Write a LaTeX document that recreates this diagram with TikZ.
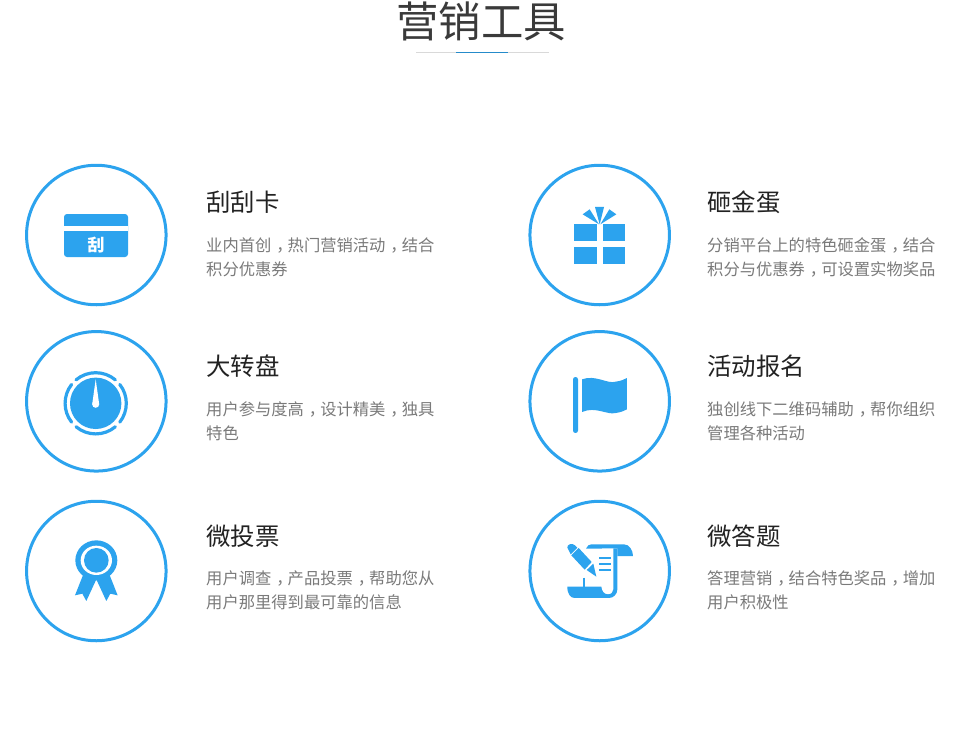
\documentclass[tikz,border=0pt]{standalone}
\usepackage{fontspec}
\setmainfont{Noto Sans CJK SC}
\definecolor{ic}{HTML}{2CA3EE}
\definecolor{ttl}{HTML}{3A3A3A}
\definecolor{hd}{HTML}{222222}
\definecolor{bd}{HTML}{7A7A7A}
\newcommand{\cm}{\hspace*{0.3em}，\hspace*{-0.3em}}
\tikzset{
 x=1pt,y=-1pt,
 ring/.style={draw=ic,line width=3pt,circle,minimum size=139.5pt,inner sep=0pt},
 head/.style={anchor=west,inner sep=0pt,font=\fontsize{24.4}{24.4}\selectfont,text=hd},
 body/.style={anchor=west,inner sep=0pt,font=\fontsize{16.3}{16.3}\selectfont,text=bd},
 wl/.style={draw=ic,line width=#1,line cap=round}
}
\begin{document}
\begin{tikzpicture}
\useasboundingbox (0,0) rectangle (960,744);
\fill[white] (0,0) rectangle (960,744);
\node[inner sep=0pt,text=ttl,font=\fontsize{42.4}{42.4}\selectfont] (title) at (481,21.5) {营销工具};
\coordinate (ra) at (416,52.5); \coordinate (rb) at (549,52.5);
\coordinate (ba) at (456,52.5); \coordinate (bb) at (508,52.5);
\draw[draw=black!15,line width=1pt] (ra) -- (rb);
\draw[draw=ic!85!black,line width=1pt] (ba) -- (bb);
% rings
\node[ring] (c1) at (96.3,235) {};
\node[ring] (c2) at (96.3,401.3) {};
\node[ring] (c3) at (96.3,571) {};
\node[ring] (c4) at (599.7,235) {};
\node[ring] (c5) at (599.7,401.3) {};
\node[ring] (c6) at (599.7,571) {};
% headings
\node[head] (h1) at (206,202) {刮刮卡};
\node[head] (h2) at (206,366) {大转盘};
\node[head] (h3) at (206,536) {微投票};
\node[head] (h4) at (707,202) {砸金蛋};
\node[head] (h5) at (707,366) {活动报名};
\node[head] (h6) at (707,536) {微答题};
% body
\node[body] (b1a) at (206,245.2) {业内首创\cm 热门营销活动\cm 结合};
\node[body] (b1b) at (206,269.7) {积分优惠券};
\node[body] (b2a) at (206,409.2) {用户参与度高\cm 设计精美\cm 独具};
\node[body] (b2b) at (206,433.7) {特色};
\node[body] (b3a) at (206,578.2) {用户调查\cm 产品投票\cm 帮助您从};
\node[body] (b3b) at (206,602.2) {用户那里得到最可靠的信息};
\node[body] (b4a) at (707,245.2) {分销平台上的特色砸金蛋\cm 结合};
\node[body] (b4b) at (707,269.7) {积分与优惠券\cm 可设置实物奖品};
\node[body] (b5a) at (707,409.2) {独创线下二维码辅助\cm 帮你组织};
\node[body] (b5b) at (707,433.7) {管理各种活动};
\node[body] (b6a) at (707,578.2) {答理营销\cm 结合特色奖品\cm 增加};
\node[body] (b6b) at (707,602.2) {用户积极性};
% card
\fill[ic,rounded corners=3pt] (64,214) rectangle (128,257);
\fill[white] (64,225.7) rectangle (128,230.7);
\node[inner sep=0pt,text=white,font=\fontsize{17}{17}\selectfont\bfseries] (g1) at (96,245) {刮};
% gauge
\fill[ic] (95.7,403.3) circle (25.7);
\foreach \a/\b in {50/130,142/218,230/310,322/398}
  \draw[wl=3.2pt] (95.7,403.3) ++({\a}:30.6 and -30.6) arc[start angle=-\a,end angle=-\b,radius=30.6];
\fill[white] (95.7,379.3) -- (92.2,404.3) -- (99.2,404.3) -- cycle;
\fill[white] (95.7,404.3) circle (3.5);
% ribbon
\begin{scope}[shift={(20,496)},x=0.3333pt,y=-0.3333pt]
\fill[ic] (190,235) -- (165,298) -- (187,293) -- (199,315) -- (229,250) -- (259,315) -- (271,293) -- (293,298) -- (268,235) -- cycle;
\fill[ic] (229,193) ellipse [x radius=63,y radius=60];
\fill[white] (229,193) ellipse [x radius=47,y radius=44];
\fill[ic] (229,193) circle (37);
\end{scope}
% gift
\begin{scope}[shift={(524,160)},x=0.3333pt,y=-0.3333pt]
\fill[ic] (150,193) rectangle (218,244);
\fill[ic] (236,193) rectangle (303,244);
\fill[ic] (150,261) rectangle (218,312);
\fill[ic] (236,261) rectangle (303,312);
\fill[ic] (213,141) -- (240,141) -- (227,193) -- cycle;
\fill[ic] (176,163) -- (197,148) -- (225,193) -- cycle;
\fill[ic] (277,163) -- (256,148) -- (229,193) -- cycle;
\end{scope}
% flag
\begin{scope}[shift={(524,326)},x=0.3333pt,y=-0.3333pt]
\fill[ic,rounded corners=2.4pt] (147,153) rectangle (162,321);
\fill[ic] (174,160) .. controls (215,145) and (250,175) .. (275,167) .. controls (290,165) and (300,161) .. (309,156) -- (309,250) .. controls (300,255) and (290,259) .. (275,261) .. controls (250,268) and (215,240) .. (174,258) -- cycle;
\end{scope}
% scroll
\begin{scope}[shift={(524,496)},x=0.3333pt,y=-0.3333pt]
\fill[ic] (186,158) .. controls (190,149) and (195,145) .. (202,145) -- (300,145) .. controls (316,145) and (327,163) .. (327,180) -- (280,180) -- (280,157) -- cycle;
\fill[ic] (280,157) -- (280,280) .. controls (280,295) and (268,306) .. (255,306) -- (152,306) .. controls (140,306) and (130,295) .. (130,272) -- (232,272) .. controls (233,285) and (240,295) .. (252,295) .. controls (262,295) and (268,288) .. (268,280) -- (268,157) -- cycle;
\draw[ic,line width=1.8pt] (179,245) -- (179,272);
\foreach \yy in {185,203,222} \draw[ic,line width=2pt] (225,\yy) -- (260,\yy);
\fill[ic] (130,155) .. controls (128,145) and (145,140) .. (153,148) -- (160,155) -- (140,175) -- cycle;
\fill[ic] (142,178) -- (164,156) -- (203,198) -- (182,221) -- cycle;
\fill[ic] (188,222) -- (208,203) -- (217,242) -- cycle;
\end{scope}
\end{tikzpicture}
\end{document}
